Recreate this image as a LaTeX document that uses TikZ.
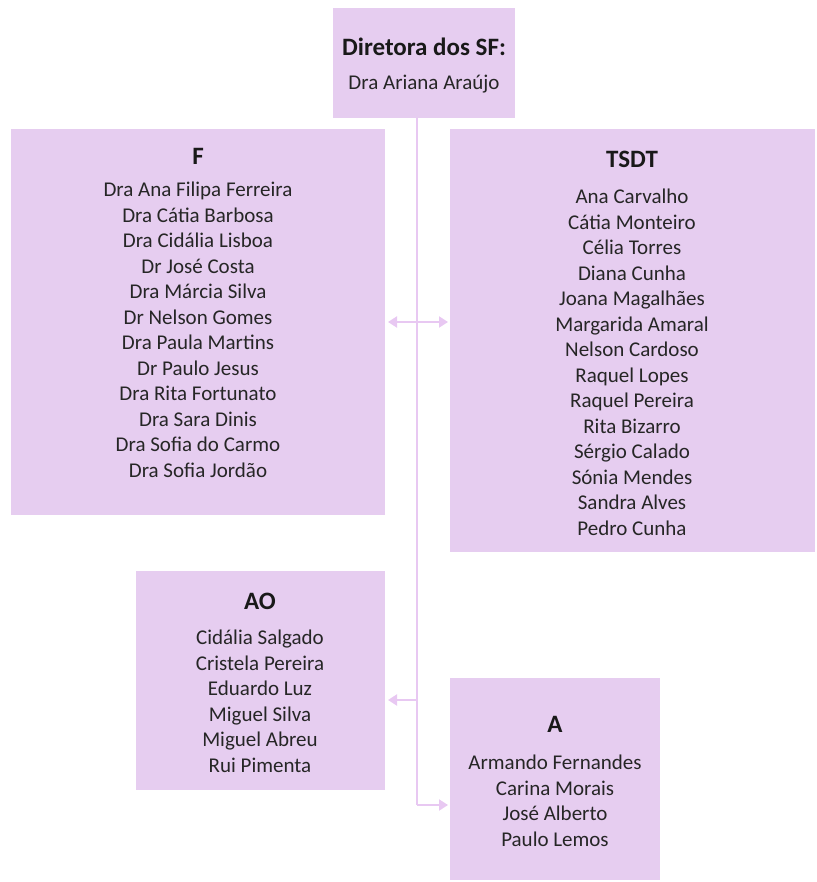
\documentclass[tikz,border=0pt]{standalone}
\usepackage{fontspec}
\setmainfont{Carlito}
\usetikzlibrary{arrows.meta}
\definecolor{boxfill}{RGB}{230,205,240}
\definecolor{linecol}{RGB}{232,200,242}
\tikzset{
  box/.style={draw=none,fill=boxfill,inner sep=0pt},
  ttl/.style={font=\fontsize{25}{28}\selectfont\bfseries,anchor=center,text=black!90},
  names/.style={font=\fontsize{21}{25.5}\selectfont,align=center,anchor=north,inner sep=0pt,text=black!85},
  conn/.style={draw=linecol,line width=2pt},
  arr/.style={conn,-{Triangle[length=9pt,width=11pt]}}
}
\begin{document}
\begin{tikzpicture}[x=1pt,y=-1pt]
\useasboundingbox (0,0) rectangle (816,882);
% boxes
\path[box] (333,8) rectangle (515,118);
\path[box] (11,129) rectangle (385,515);
\path[box] (450,129) rectangle (815,552);
\path[box] (136,571) rectangle (385,790);
\path[box] (450,678) rectangle (660,880);
% texts
\node[ttl] (dt) at (424,47) {Diretora dos SF:};
\node[names,anchor=center] (dn) at (424,84) {Dra Ariana Araújo};
\node[ttl] (ft) at (198,156) {F};
\node[names] (fn) at (198,182) {Dra Ana Filipa Ferreira\\Dra Cátia Barbosa\\Dra Cidália Lisboa\\Dr José Costa\\Dra Márcia Silva\\Dr Nelson Gomes\\Dra Paula Martins\\Dr Paulo Jesus\\Dra Rita Fortunato\\Dra Sara Dinis\\Dra Sofia do Carmo\\Dra Sofia Jordão};
\node[ttl] (tt) at (632,159) {TSDT};
\node[names] (tn) at (632,189) {Ana Carvalho\\Cátia Monteiro\\Célia Torres\\Diana Cunha\\Joana Magalhães\\Margarida Amaral\\Nelson Cardoso\\Raquel Lopes\\Raquel Pereira\\Rita Bizarro\\Sérgio Calado\\Sónia Mendes\\Sandra Alves\\Pedro Cunha};
\node[ttl] (at) at (260,601) {AO};
\node[names] (an) at (260,630) {Cidália Salgado\\Cristela Pereira\\Eduardo Luz\\Miguel Silva\\Miguel Abreu\\Rui Pimenta};
\node[ttl] (aat) at (555,724) {A};
\node[names] (aan) at (555,755) {Armando Fernandes\\Carina Morais\\José Alberto\\Paulo Lemos};
% connectors
\coordinate (vtop) at (417,118);
\coordinate (vbot) at (417,805);
\coordinate (mid) at (417,322);
\coordinate (fl) at (388,322);
\coordinate (tr) at (448,322);
\coordinate (aoj) at (417,700);
\coordinate (aol) at (388,700);
\coordinate (ar) at (448,805);
\draw[conn] (vtop) -- (vbot);
\draw[arr] (mid) -- (fl);
\draw[arr] (mid) -- (tr);
\draw[arr] (aoj) -- (aol);
\draw[arr] (vbot) -- (ar);
\end{tikzpicture}
\end{document}
